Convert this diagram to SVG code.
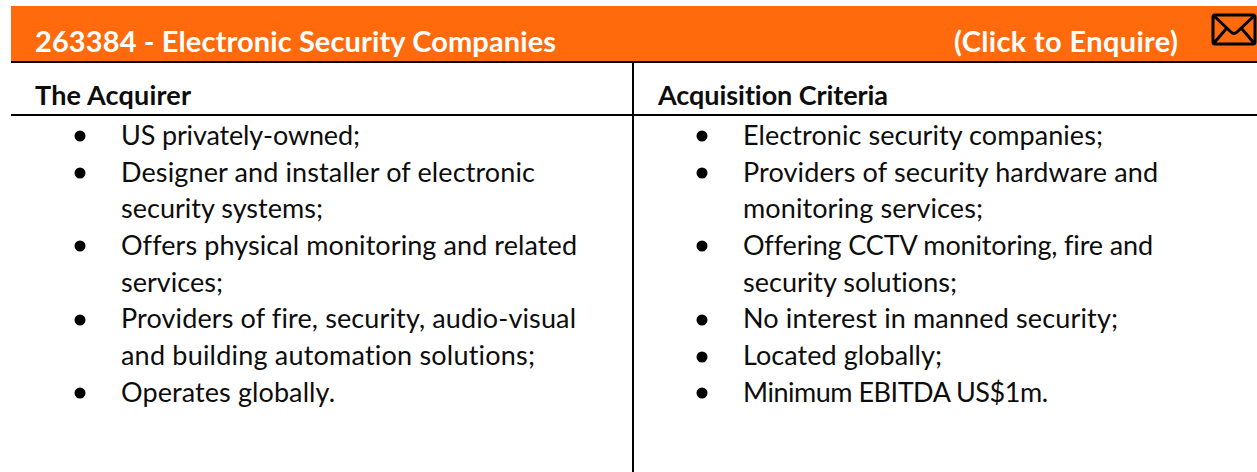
<svg xmlns="http://www.w3.org/2000/svg" width="1257" height="472" viewBox="0 0 1257 472">
<style>
text{font-family:"Lato","Open Sans","Liberation Sans",sans-serif;font-variant-ligatures:none;}
.b{font-size:27px;fill:#0d0d0d;}
.h{font-size:27px;font-weight:700;fill:#0d0d0d;}
.t{font-size:29px;font-weight:700;fill:#fff;}
.r{stroke:#000;fill:none;}
</style>
<rect width="1257" height="472" fill="#fff"/>
<g id="banner">
<rect x="11" y="6" width="1246" height="55" fill="#ff6a0c"/>
<text class="t" x="35" y="52" textLength="521">263384 - Electronic Security Companies</text>
<text class="t" x="954" y="52" textLength="224">(Click to Enquire)</text>
</g>
<g id="icon" class="r" stroke-width="3" stroke-linejoin="round">
<rect x="1213" y="15" width="42" height="29" rx="2"/>
<path d="M1213 15L1231 32Q1234 35 1237 32L1255 15M1214 43L1226 29M1254 43L1242 29"/>
</g>
<g id="rules" class="r" stroke-width="2">
<path d="M11 62H1257M11 115H1257M633 62V472"/>
</g>
<g id="acquirer">
<text class="h" x="35" y="105" textLength="156">The Acquirer</text>
<g fill="#000"><circle cx="80" cy="136" r="5.500"/><circle cx="80" cy="173" r="5.500"/><circle cx="80" cy="246" r="5.500"/><circle cx="80" cy="320" r="5.500"/><circle cx="80" cy="393" r="5.500"/></g>
<text class="b" x="121" y="145" textLength="239">US privately-owned;</text>
<text class="b" x="121" y="182" textLength="414">Designer and installer of electronic</text>
<text class="b" x="121" y="218" textLength="202">security systems;</text>
<text class="b" x="121" y="255" textLength="456">Offers physical monitoring and related</text>
<text class="b" x="121" y="292" textLength="102">services;</text>
<text class="b" x="121" y="328" textLength="455">Providers of fire, security, audio-visual</text>
<text class="b" x="121" y="365" textLength="414">and building automation solutions;</text>
<text class="b" x="121" y="402" textLength="214">Operates globally.</text>
</g>
<g id="criteria">
<text class="h" x="658" y="105" textLength="230">Acquisition Criteria</text>
<g fill="#000"><circle cx="702" cy="136" r="5.500"/><circle cx="702" cy="173" r="5.500"/><circle cx="702" cy="246" r="5.500"/><circle cx="702" cy="320" r="5.500"/><circle cx="702" cy="357" r="5.500"/><circle cx="702" cy="393" r="5.500"/></g>
<text class="b" x="743" y="145" textLength="360">Electronic security companies;</text>
<text class="b" x="743" y="182" textLength="415">Providers of security hardware and</text>
<text class="b" x="743" y="218" textLength="240">monitoring services;</text>
<text class="b" x="743" y="255" textLength="410">Offering CCTV monitoring, fire and</text>
<text class="b" x="743" y="292" textLength="214">security solutions;</text>
<text class="b" x="743" y="328" textLength="375">No interest in manned security;</text>
<text class="b" x="743" y="365" textLength="199">Located globally;</text>
<text class="b" x="743" y="402" textLength="305">Minimum EBITDA US$1m.</text>
</g>
</svg>
